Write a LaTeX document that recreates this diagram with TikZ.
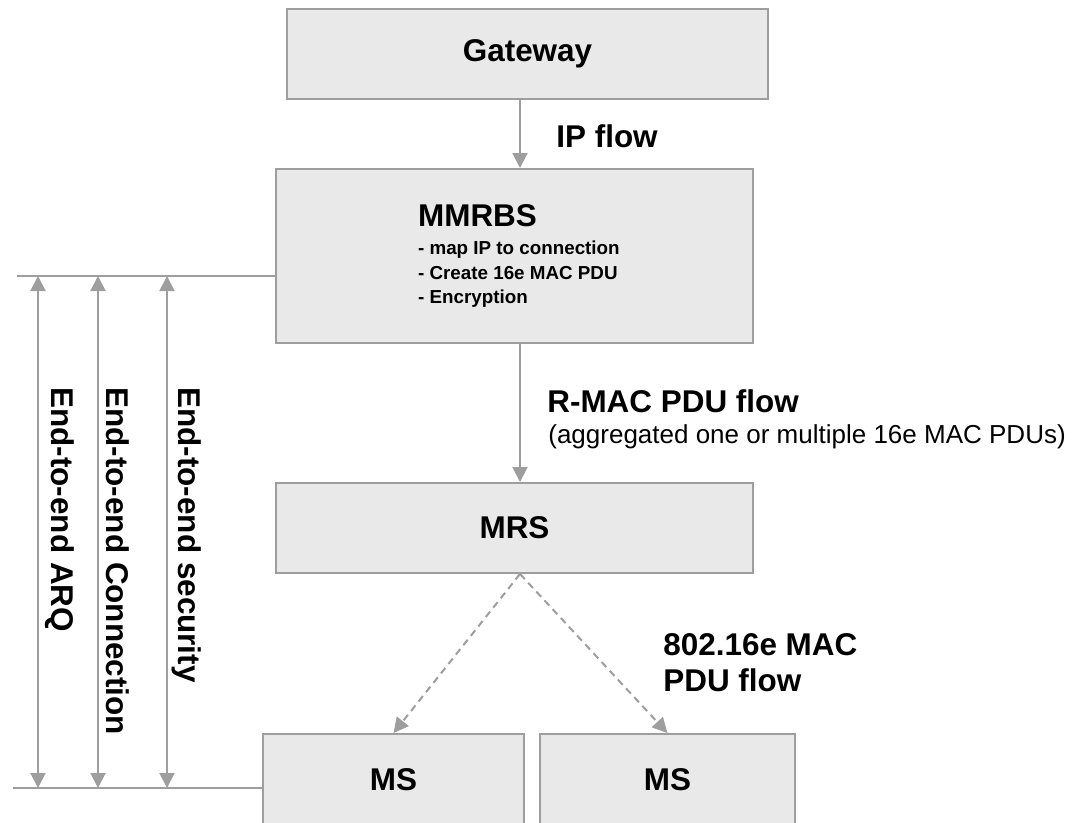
\documentclass[tikz,border=0pt]{standalone}
\usepackage{fontspec}
\setmainfont{Liberation Sans}
\usepackage{xcolor}
\usetikzlibrary{arrows.meta,positioning}
\definecolor{boxfill}{HTML}{E9E9E9}
\definecolor{edgegray}{HTML}{9E9E9E}
\newcommand{\bigbf}{\fontsize{17.9}{20.4}\selectfont\bfseries}
\newcommand{\subbf}{\fontsize{10.7}{14.2}\selectfont\bfseries}
\newcommand{\notefont}{\fontsize{14.8}{18}\selectfont}

\begin{document}
\begin{tikzpicture}[
  x=0.02cm, y=-0.02cm,
  node distance=0.3cm,
  box/.style={draw=edgegray, line width=0.04cm, fill=boxfill, font=\bigbf, inner sep=0pt},
  lbl/.style={font=\bigbf, inner sep=0pt, anchor=west},
  side/.style={font=\bigbf, inner sep=0pt, rotate=-90, anchor=west},
  arr/.style={-{Triangle[length=0.3cm, width=0.3cm]}, draw=edgegray, line width=0.04cm},
  both/.style={{Triangle[length=0.3cm, width=0.3cm]}-{Triangle[length=0.3cm, width=0.3cm]}, draw=edgegray, line width=0.04cm},
  dsh/.style={arr, dash pattern=on 0.14cm off 0.1cm},
  ln/.style={draw=edgegray, line width=0.04cm}
]
  \useasboundingbox (0,0) rectangle (1078,822);
  \clip (0,0) rectangle (1078,822);

  % boxes
  \node[box, minimum width=9.62cm, minimum height=1.8cm] (gw) at (527.5,54) {Gateway};
  \node[box, minimum width=9.54cm, minimum height=3.48cm, align=left] (mmrbs) at (514.5,256)
    {\hspace*{5pt}MMRBS\\[-4.5pt] \hspace*{5pt}\subbf - map IP to connection\\[-6.2pt] \hspace*{5pt}\subbf - Create 16e MAC PDU\\[-6.2pt] \hspace*{5pt}\subbf - Encryption};
  \node[box, minimum width=9.54cm, minimum height=1.8cm] (mrs) at (514.5,528) {MRS};
  \node[box, minimum width=5.22cm, minimum height=1.84cm] (ms1) at (393.5,780) {MS};
  \node[box, minimum width=5.1cm, minimum height=1.84cm] (ms2) [right=0.28cm of ms1] {MS};

  % flows
  \coordinate (axis) at (520,0);
  \draw[arr] (gw.south -| axis) -- (mmrbs.north -| axis);
  \draw[arr] (mmrbs.south -| axis) -- (mrs.north -| axis);
  \draw[dsh] (mrs.south -| axis) -- (ms1.north);
  \draw[dsh] (mrs.south -| axis) -- (ms2.north);

  \node[lbl] (ipflow) at (556,136) {IP flow};
  \node[lbl] (rmac) at (547,401) {R-MAC PDU flow};
  \node[lbl, font=\notefont] (agg) at (548,437) {(aggregated one or multiple 16e MAC PDUs)};
  \node[lbl, align=left] (macflow) at (663,663) {802.16e MAC\\PDU flow};

  % end-to-end span
  \coordinate (top) at (17,276);
  \coordinate (bot) at (13,788);
  \draw[ln] (top) -- (top -| mmrbs.west);
  \draw[ln] (bot) -- (bot -| ms1.west);
  \foreach \x [count=\i] in {38,98,167} {
    \coordinate (a\i) at (\x,276);
    \coordinate (b\i) at (\x,788);
    \draw[both] (a\i) -- (b\i);
  }
  \node[side] (arq) at (60,387) {End-to-end ARQ};
  \node[side] (conn) at (118,387) {End-to-end Connection};
  \node[side] (sec) at (187,387) {End-to-end security};
\end{tikzpicture}
\end{document}
